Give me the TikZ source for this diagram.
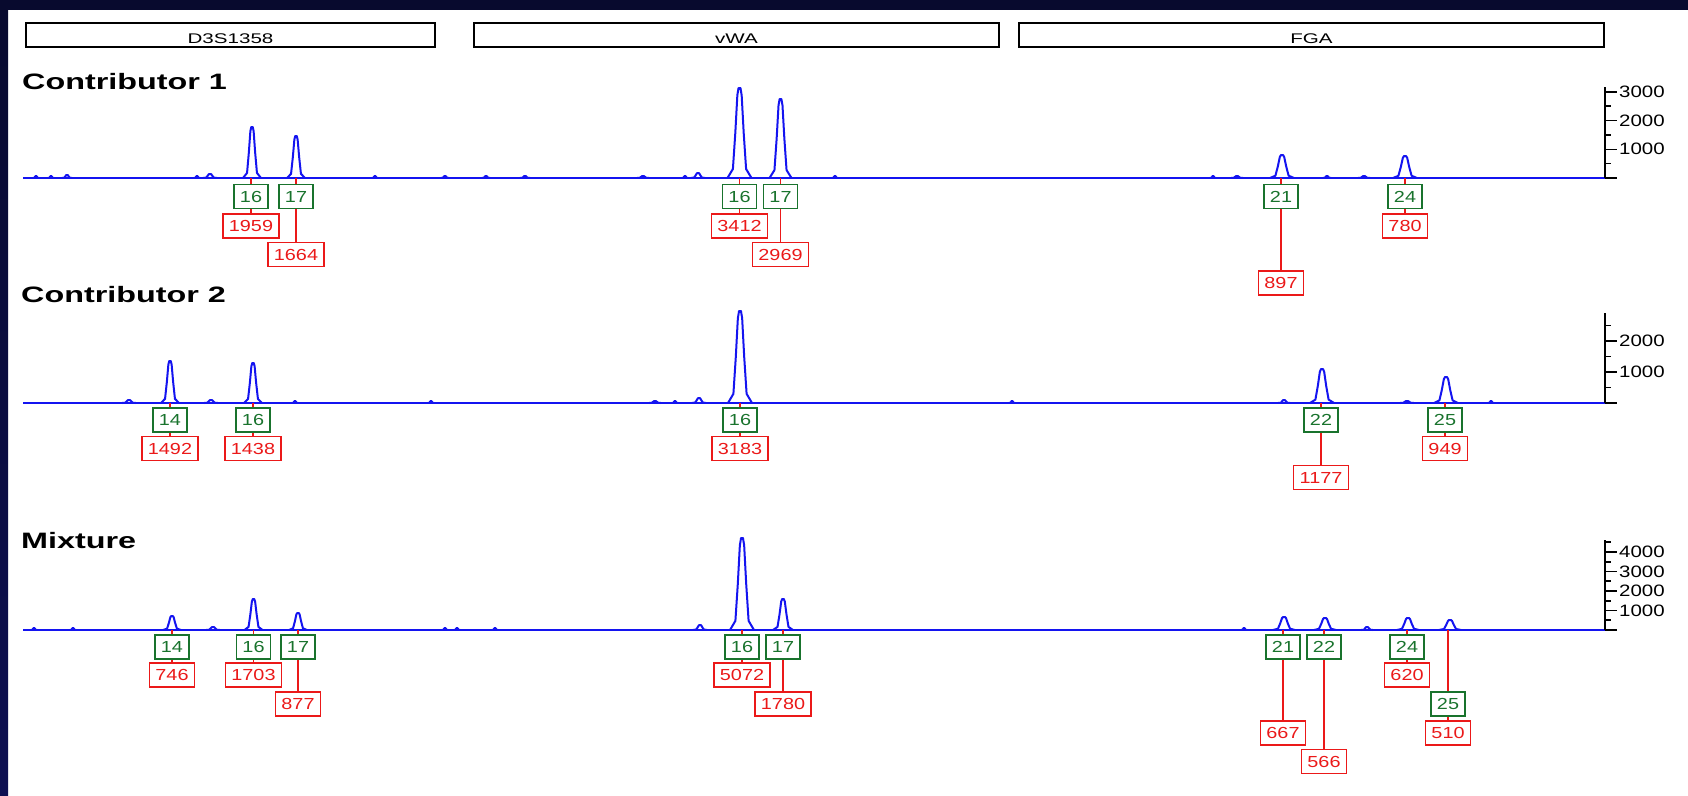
\documentclass[tikz,border=0pt]{standalone}
\usepackage{fontspec}
\setmainfont{Liberation Sans}
\newfontfamily\titlefont[FakeStretch=1.45]{Liberation Sans}
\newfontfamily\labfont[FakeStretch=1.24]{Liberation Sans}
\newfontfamily\locusfont[FakeStretch=1.47]{Liberation Sans}
\definecolor{navy}{RGB}{8,10,46}
\definecolor{navylow}{RGB}{14,16,82}
\definecolor{peakblue}{RGB}{20,20,240}
\definecolor{allelegreen}{RGB}{25,115,45}
\definecolor{areared}{RGB}{235,25,25}

\tikzset{
 locus/.style={draw=black, line width=1.5pt, minimum height=24pt, inner sep=0pt, text height=16pt, text depth=0pt, font=\locusfont\fontsize{14}{16}\selectfont},
 paneltitle/.style={anchor=base west, inner sep=0pt, font=\titlefont\bfseries\fontsize{22.3}{26}\selectfont},
 allelebox/.style={draw=allelegreen, text=allelegreen, line width=1.6pt, minimum height=24pt, inner xsep=6pt, inner ysep=0pt, font=\labfont\fontsize{16}{18}\selectfont},
 areabox/.style={allelebox, draw=areared, text=areared},
 stem/.style={areared, line width=1.5pt},
 trace/.style={peakblue, line width=2pt, line join=round},
 axisline/.style={black, line width=1.6pt},
 axislab/.style={anchor=west, inner sep=0pt, font=\labfont\fontsize{16.5}{18}\selectfont},
}

\begin{document}
\begin{tikzpicture}[x=1pt,y=-1pt]
\useasboundingbox (0,0) rectangle (1688,795);
\fill[white] (0,0) rectangle (1688,795);
\shade[top color=navy, bottom color=navylow] (0,0) rectangle (8,795);
\fill[navy] (0,0) rectangle (1688,10);

% loci
\node[locus, minimum width=409pt] (d3s) at (230.5,35) {D3S1358};
\node[locus, minimum width=525pt] (vwa) at (736.5,35) {vWA};
\node[locus, minimum width=585pt] (fga) at (1311.5,35) {FGA};

\node[paneltitle] (c1t) at (22,89) {Contributor 1};
\node[paneltitle] (c2t) at (21,302) {Contributor 2};
\node[paneltitle] (mxt) at (21,548) {Mixture};

% traces
\draw[trace] (23,178) -- (1605,178);
\draw[trace] (23,403) -- (1605,403);
\draw[trace] (23,630) -- (1605,630);

\foreach \px/\ph/\pw in {36/2/3, 51/2/3, 67/3/5, 197/2/3, 210/4/7, 252/51/9, 296/42/9, 375/2/3, 445/2/4, 486/2/4, 525/2/5, 643/2/6, 685/2/3, 698/5/7, 739.5/90/12, 780.5/79/11, 835/2/3, 1213/2/3, 1237/2/6, 1282/23/12, 1327/2/4, 1364/2/6, 1405/22/12}
  \draw[trace] ({\px-\pw},178) -- ({\px-0.55*\pw},{178-0.1*\ph}) -- ({\px-0.35*\pw},{178-0.5*\ph}) -- ({\px-0.18*\pw},{178-0.92*\ph}) -- ({\px-0.08*\pw},{178-\ph}) -- ({\px+0.08*\pw},{178-\ph}) -- ({\px+0.18*\pw},{178-0.92*\ph}) -- ({\px+0.35*\pw},{178-0.5*\ph}) -- ({\px+0.55*\pw},{178-0.1*\ph}) -- ({\px+\pw},178);

\foreach \px/\ph/\pw in {129/3/7, 170/42/9, 211/3/7, 253/40/9, 295/2/3, 431/2/3, 655/2/6, 675/2/3, 699/5/7, 740/92/12, 1012/2/3, 1284/3/6, 1322/34/12, 1407/2/7, 1446/26/12, 1491/2/3}
  \draw[trace] ({\px-\pw},403) -- ({\px-0.55*\pw},{403-0.1*\ph}) -- ({\px-0.35*\pw},{403-0.5*\ph}) -- ({\px-0.18*\pw},{403-0.92*\ph}) -- ({\px-0.08*\pw},{403-\ph}) -- ({\px+0.08*\pw},{403-\ph}) -- ({\px+0.18*\pw},{403-0.92*\ph}) -- ({\px+0.35*\pw},{403-0.5*\ph}) -- ({\px+0.55*\pw},{403-0.1*\ph}) -- ({\px+\pw},403);

\foreach \px/\ph/\pw in {34/2/3, 73/2/3, 172/14/9, 213/3/7, 253.5/31/9, 298/17/9, 445/2/3, 457/2/3, 495/2/3, 700/5/7, 742/92/12, 783/31/10, 1244/2/3, 1284/13/11, 1325/12/11, 1367/3/6, 1408/12/11, 1450/10/11}
  \draw[trace] ({\px-\pw},630) -- ({\px-0.55*\pw},{630-0.1*\ph}) -- ({\px-0.35*\pw},{630-0.5*\ph}) -- ({\px-0.18*\pw},{630-0.92*\ph}) -- ({\px-0.08*\pw},{630-\ph}) -- ({\px+0.08*\pw},{630-\ph}) -- ({\px+0.18*\pw},{630-0.92*\ph}) -- ({\px+0.35*\pw},{630-0.5*\ph}) -- ({\px+0.55*\pw},{630-0.1*\ph}) -- ({\px+\pw},630);

% axes
\draw[axisline] (1605,87) -- (1605,178);
\foreach \t in {0,1,2,3} \draw[axisline] (1605,{178-28.7*\t}) -- (1617,{178-28.7*\t});
\foreach \t in {0.5,1.5,2.5} \draw[axisline] (1605,{178-28.7*\t}) -- (1611,{178-28.7*\t});
\foreach \t in {1,2,3} \node[axislab] (c1y\t) at (1619,{178-28.7*\t}) {\t000};

\draw[axisline] (1605,313) -- (1605,403);
\foreach \t in {0,1,2} \draw[axisline] (1605,{403-31*\t}) -- (1617,{403-31*\t});
\foreach \t in {0.5,1.5,2.5} \draw[axisline] (1605,{403-31*\t}) -- (1611,{403-31*\t});
\foreach \t in {1,2} \node[axislab] (c2y\t) at (1619,{403-31*\t}) {\t000};

\draw[axisline] (1605,540) -- (1605,630);
\foreach \t in {0,1,2,3,4} \draw[axisline] (1605,{630-19.5*\t}) -- (1617,{630-19.5*\t});
\foreach \t in {0.5,1.5,2.5,3.5,4.5} \draw[axisline] (1605,{630-19.5*\t}) -- (1611,{630-19.5*\t});
\foreach \t in {1,2,3,4} \node[axislab] (mxy\t) at (1619,{630-19.5*\t}) {\t000};

% contributor 1
\coordinate (c1a) at (251,178);
\coordinate (c1b) at (296,178);
\coordinate (c1c) at (739.5,178);
\coordinate (c1d) at (780.5,178);
\coordinate (c1e) at (1281,178);
\coordinate (c1f) at (1405,178);
\node[allelebox] (c1ag) at (251,196.5) {16};
\node[allelebox] (c1bg) at (296,196.5) {17};
\node[allelebox] (c1cg) at (739.5,196.5) {16};
\node[allelebox] (c1dg) at (780.5,196.5) {17};
\node[allelebox] (c1eg) at (1281,196.5) {21};
\node[allelebox] (c1fg) at (1405,196.5) {24};
\node[areabox] (c1ar) at (251,226) {1959};
\node[areabox] (c1br) at (296,254.5) {1664};
\node[areabox] (c1cr) at (739.5,226) {3412};
\node[areabox] (c1dr) at (780.5,254.5) {2969};
\node[areabox] (c1er) at (1281,283) {897};
\node[areabox] (c1fr) at (1405,226) {780};
\draw[stem] (c1a)--(c1ag) (c1ag)--(c1ar) (c1b)--(c1bg) (c1bg)--(c1br) (c1c)--(c1cg) (c1cg)--(c1cr);
\draw[stem] (c1d)--(c1dg) (c1dg)--(c1dr) (c1e)--(c1eg) (c1eg)--(c1er) (c1f)--(c1fg) (c1fg)--(c1fr);

% contributor 2
\coordinate (c2a) at (170,403);
\coordinate (c2b) at (253,403);
\coordinate (c2c) at (740,403);
\coordinate (c2d) at (1321,403);
\coordinate (c2e) at (1445,403);
\node[allelebox] (c2ag) at (170,420) {14};
\node[allelebox] (c2bg) at (253,420) {16};
\node[allelebox] (c2cg) at (740,420) {16};
\node[allelebox] (c2dg) at (1321,420) {22};
\node[allelebox] (c2eg) at (1445,420) {25};
\node[areabox] (c2ar) at (170,448.5) {1492};
\node[areabox] (c2br) at (253,448.5) {1438};
\node[areabox] (c2cr) at (740,448.5) {3183};
\node[areabox] (c2dr) at (1321,477.5) {1177};
\node[areabox] (c2er) at (1445,448.5) {949};
\draw[stem] (c2a)--(c2ag) (c2ag)--(c2ar) (c2b)--(c2bg) (c2bg)--(c2br) (c2c)--(c2cg) (c2cg)--(c2cr);
\draw[stem] (c2d)--(c2dg) (c2dg)--(c2dr) (c2e)--(c2eg) (c2eg)--(c2er);

% mixture
\coordinate (mxa) at (172,630);
\coordinate (mxb) at (253.5,630);
\coordinate (mxc) at (298,630);
\coordinate (mxd) at (742,630);
\coordinate (mxe) at (783,630);
\coordinate (mxf) at (1283,630);
\coordinate (mxg) at (1324,630);
\coordinate (mxh) at (1407,630);
\coordinate (mxi) at (1448,630);
\node[allelebox] (mxag) at (172,647) {14};
\node[allelebox] (mxbg) at (253.5,647) {16};
\node[allelebox] (mxcg) at (298,647) {17};
\node[allelebox] (mxdg) at (742,647) {16};
\node[allelebox] (mxeg) at (783,647) {17};
\node[allelebox] (mxfg) at (1283,647) {21};
\node[allelebox] (mxgg) at (1324,647) {22};
\node[allelebox] (mxhg) at (1407,647) {24};
\node[allelebox] (mxig) at (1448,704) {25};
\node[areabox] (mxar) at (172,675) {746};
\node[areabox] (mxbr) at (253.5,675) {1703};
\node[areabox] (mxcr) at (298,704) {877};
\node[areabox] (mxdr) at (742,675) {5072};
\node[areabox] (mxer) at (783,704) {1780};
\node[areabox] (mxfr) at (1283,733) {667};
\node[areabox] (mxgr) at (1324,761.5) {566};
\node[areabox] (mxhr) at (1407,675) {620};
\node[areabox] (mxir) at (1448,733) {510};
\draw[stem] (mxa)--(mxag) (mxag)--(mxar) (mxb)--(mxbg) (mxbg)--(mxbr) (mxc)--(mxcg) (mxcg)--(mxcr);
\draw[stem] (mxd)--(mxdg) (mxdg)--(mxdr) (mxe)--(mxeg) (mxeg)--(mxer) (mxf)--(mxfg) (mxfg)--(mxfr);
\draw[stem] (mxg)--(mxgg) (mxgg)--(mxgr) (mxh)--(mxhg) (mxhg)--(mxhr) (mxi)--(mxig) (mxig)--(mxir);
\end{tikzpicture}
\end{document}
